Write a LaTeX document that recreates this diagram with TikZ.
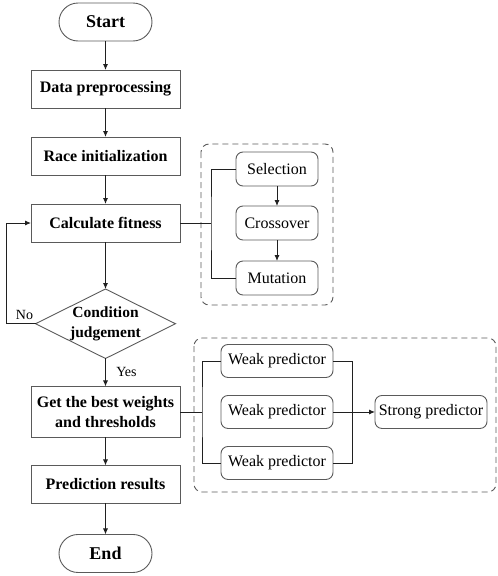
\documentclass[tikz,border=0pt]{standalone}
\usepackage{fontspec}
\setmainfont{Liberation Serif}
\usetikzlibrary{positioning}
\usetikzlibrary{arrows.meta}
\usetikzlibrary{shapes.geometric}
\definecolor{boxgray}{HTML}{5A5A5A}
\definecolor{linegray}{HTML}{202020}

\begin{document}
\begin{tikzpicture}[x=1pt, y=-1pt, line width=0.9pt,
    mainbox/.style={draw=boxgray, outer sep=0pt, minimum width=149pt, minimum height=38pt, inner sep=1pt, align=center, font=\fontsize{16}{20}\selectfont\bfseries},
    terminal/.style={draw=boxgray, outer sep=0pt, rounded corners=19pt, minimum width=93pt, minimum height=38pt, font=\fontsize{18}{22}\selectfont\bfseries},
    subbox/.style={draw=boxgray, outer sep=0pt, rounded corners=7pt, minimum width=82pt, minimum height=34pt, inner sep=1pt, font=\fontsize{16}{20}\selectfont},
    predbox/.style={subbox, minimum width=112pt, minimum height=33pt},
    decision/.style={draw=boxgray, outer sep=0pt, diamond, aspect=2, inner sep=0pt, minimum width=140pt, minimum height=69pt, align=center, font=\fontsize{15.5}{20}\selectfont\bfseries},
    arrow/.style={draw=linegray, -{Latex[length=6pt,width=5pt]}},
    link/.style={draw=linegray},
    group/.style={draw=boxgray, rounded corners=8pt, dash pattern=on 6pt off 4pt},
    tag/.style={font=\fontsize{14}{16}\selectfont}]
    \useasboundingbox (0,0) rectangle (498,576);

    % main column
    \node[terminal] (start) at (105.5,22) {Start};
    \node[mainbox, below = 29pt of start] (data) {Data preprocessing};
    \node[mainbox, below = 29pt of data] (race) {Race initialization};
    \node[mainbox, below = 29pt of race] (fitness) {Calculate fitness};
    \node[decision, below = 47pt of fitness] (cond) {Condition\\judgement};
    \node[mainbox, minimum height=51pt, below = 28pt of cond] (best) {Get the best weights\\and thresholds};
    \node[mainbox, below = 28pt of best] (result) {Prediction results};
    \node[terminal, below = 31pt of result] (end) {End};

    % genetic operators
    \node[subbox, right = 56pt of fitness] (cross) {Crossover};
    \node[subbox, above = 20pt of cross] (select) {Selection};
    \node[subbox, below = 21pt of cross] (mutate) {Mutation};

    % predictors
    \node[predbox, right = 41pt of best] (weakB) {Weak predictor};
    \node[predbox, above = 18pt of weakB] (weakA) {Weak predictor};
    \node[predbox, below = 18pt of weakB] (weakC) {Weak predictor};
    \node[predbox, right = 42pt of weakB] (strong) {Strong predictor};

    \draw[group] (201,144) rectangle (333,305);
    \draw[group] (194,338) rectangle (496,492);

    \draw[arrow] (start) -- (data);
    \draw[arrow] (data) -- (race);
    \draw[arrow] (race) -- (fitness);
    \draw[arrow] (fitness) -- (cond);
    \draw[arrow] (cond.south) -- node[tag, right=7pt] {Yes} (best.north);
    \draw[arrow] (best) -- (result);
    \draw[arrow] (result) -- (end);
    \draw[arrow] (cond.west) -- node[tag, above, pos=0.38] {No} ++(-29,0) |- (fitness.west);

    \draw[link] (fitness.east) -- ++(31,0) coordinate (fork);
    \draw[link] (select.west) -| (fork) |- (mutate.west);
    \draw[arrow] (select) -- (cross);
    \draw[arrow] (cross) -- (mutate);

    \draw[link] (best.east) -- ++(22,0) coordinate (split);
    \draw[link] (weakA.west) -| (split) |- (weakC.west);
    \draw[link] (weakA.east) -- ++(19,0) |- (weakC.east);
    \draw[arrow] (weakB.east) -- (strong.west);
\end{tikzpicture}
\end{document}
